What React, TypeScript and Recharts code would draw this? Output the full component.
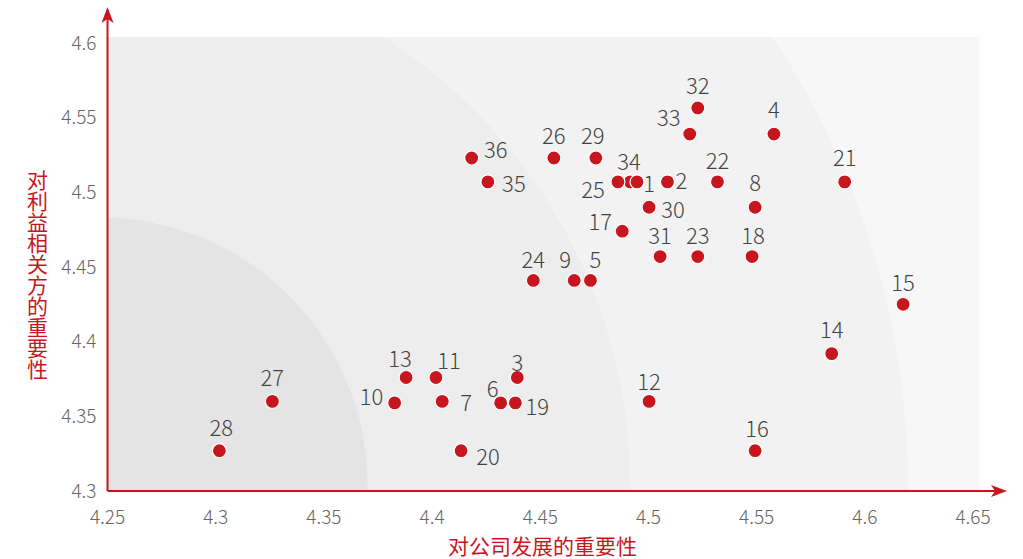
import { ScatterChart, Scatter, XAxis, YAxis } from "recharts";

const ids = [
  1, 2, 3, 4, 5, 6, 7, 8, 9, 10, 11, 12, 13, 14, 15, 16, 17, 18,
  19, 20, 21, 22, 23, 24, 25, 26, 27, 28, 29, 30, 31, 32, 33, 34, 35, 36,
];
const companyImportance = [
  4.4916, 4.5088, 4.4394, 4.558, 4.4732, 4.4317, 4.4047, 4.5493, 4.4657, 4.3827, 4.4018, 4.5003,
  4.388, 4.5847, 4.6177, 4.5493, 4.4879, 4.5479, 4.4385, 4.4134, 4.5907, 4.5319, 4.5228, 4.4468,
  4.4859, 4.4563, 4.3262, 4.3017, 4.4757, 4.5003, 4.5054, 4.5228, 4.5191, 4.4947, 4.4258, 4.4183,
];
const stakeholderImportance = [
  4.507, 4.507, 4.376, 4.539, 4.441, 4.359, 4.36, 4.49, 4.441, 4.359, 4.376, 4.36,
  4.376, 4.392, 4.425, 4.327, 4.474, 4.457, 4.359, 4.327, 4.507, 4.507, 4.457, 4.441,
  4.507, 4.523, 4.36, 4.327, 4.523, 4.49, 4.457, 4.5565, 4.539, 4.507, 4.507, 4.523,
];
const xTicks = [4.25, 4.3, 4.35, 4.4, 4.45, 4.5, 4.55, 4.6, 4.65];
const yTicks = [4.3, 4.35, 4.4, 4.45, 4.5, 4.55, 4.6];
const xTitle = "对公司发展的重要性";
const yTitle = "对利益相关方的重要性";

// where each number sits relative to its dot (px)
const labelOffset: Record<number, [number, number]> = {
  1: [19, 0], 2: [14, -3], 3: [0, -17], 4: [0, -26], 5: [5, -22], 6: [-8, -16],
  7: [24, 0], 8: [0, -26], 9: [-9, -22], 10: [-23, -8], 11: [13, -19], 12: [0, -21],
  13: [-6, -21], 14: [0, -26], 15: [0, -23], 16: [2, -24], 17: [-22, -11], 18: [1, -23],
  19: [22, 2], 20: [27, 4], 21: [0, -26], 22: [0, -23], 23: [0, -23], 24: [0, -22],
  25: [-25, 6], 26: [0, -24], 27: [0, -25], 28: [2, -25], 29: [-3, -24], 30: [24, 1],
  31: [0, -23], 32: [0, -24], 33: [-21, -18], 34: [-8, -22], 35: [26, 0], 36: [24, -10],
};

const data = ids.map((id, i) => ({
  id,
  x: companyImportance[i],
  y: stakeholderImportance[i],
}));

const RED = "#c8161e";
const FONT = '"Noto Sans CJK SC", "Noto Sans", sans-serif';
const W = 1023;
const H = 559;

// plot frame
const PL = 107.5;
const PT = 43;
const PR = 973;
const PB = 491;

function Dot(props: any) {
  const { cx, cy, payload } = props;
  const [dx, dy] = labelOffset[payload.id] || [0, -24];
  return (
    <g>
      <circle cx={cx} cy={cy} r={7} fill={RED} stroke="#fff" strokeWidth={1.2} />
      <text
        x={cx + dx}
        y={cy + dy}
        textAnchor="middle"
        dominantBaseline="central"
        fontSize={22}
        fontWeight={300}
        fill="#444"
        fontFamily={FONT}
      >
        {payload.id}
      </text>
    </g>
  );
}

const tickStyle = { fill: "#666", fontSize: 19, fontWeight: 300, fontFamily: FONT };

export default function App() {
  const cx = 100;
  const cy = 485;
  return (
    <div style={{ position: "relative", width: W, height: H, fontFamily: FONT }}>
      <style>{`body{margin:0}`}</style>
      <svg width={W} height={H} style={{ position: "absolute", left: 0, top: 0 }}>
        <defs>
          <clipPath id="bgclip">
            <rect x={PL} y={37} width={979 - PL} height={PB - 37} />
          </clipPath>
        </defs>
        <g clipPath="url(#bgclip)">
          <rect x={PL} y={37} width={979 - PL} height={PB - 37} fill="#f7f7f7" />
          <circle cx={cx} cy={cy} r={808} fill="#f2f2f2" />
          <circle cx={cx} cy={cy} r={530} fill="#ededed" />
          <circle cx={cx} cy={cy} r={267.5} fill="#e4e4e4" />
        </g>
      </svg>
      <div style={{ position: "absolute", left: 0, top: 0 }}>
        <ScatterChart
          width={W}
          height={H}
          margin={{ top: PT, right: W - PR, left: PL - 60, bottom: H - PB - 30 }}
        >
          <XAxis
            type="number"
            dataKey="x"
            domain={[4.25, 4.65]}
            ticks={xTicks}
            interval={0}
            allowDataOverflow
            axisLine={false}
            tickLine={false}
            tickSize={0}
            tickMargin={20}
            height={30}
            tick={tickStyle}
          />
          <YAxis
            type="number"
            dataKey="y"
            domain={[4.3, 4.6]}
            ticks={yTicks}
            interval={0}
            allowDataOverflow
            axisLine={false}
            tickLine={false}
            tickSize={0}
            tickMargin={11}
            width={60}
            tick={tickStyle}
          />
          <Scatter data={data} shape={Dot} isAnimationActive={false} />
        </ScatterChart>
      </div>
      <svg
        width={W}
        height={H}
        style={{ position: "absolute", left: 0, top: 0, pointerEvents: "none" }}
      >
        <line x1={PL} y1={PB} x2={1000} y2={PB} stroke={RED} strokeWidth={2} />
        <path d={`M1007,${PB} L991,${PB - 6} L995,${PB} L991,${PB + 6} Z`} fill={RED} />
        <line x1={PL} y1={PB} x2={PL} y2={14} stroke={RED} strokeWidth={2} />
        <path d={`M${PL},7 L${PL - 6},23 L${PL},19 L${PL + 6},23 Z`} fill={RED} />
        <text
          x={542.5}
          y={545}
          textAnchor="middle"
          dominantBaseline="central"
          fontSize={21}
          fill={RED}
          fontFamily={FONT}
        >
          {xTitle}
        </text>
        <text
          x={37.5}
          y={170}
          fontSize={21}
          fill={RED}
          fontFamily={FONT}
          style={{ writingMode: "vertical-rl" }}
        >
          {yTitle}
        </text>
      </svg>
    </div>
  );
}
